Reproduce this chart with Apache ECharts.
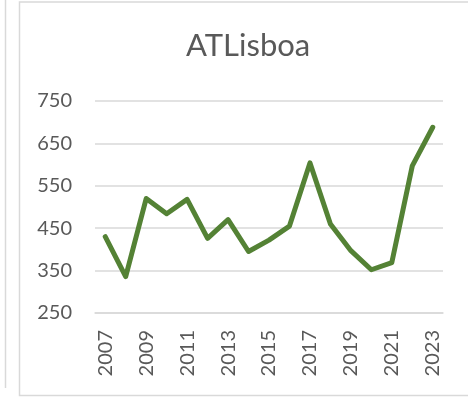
<!DOCTYPE html>
<html>
<head>
<meta charset="utf-8">
<script src="https://cdn.jsdelivr.net/npm/echarts@6/dist/echarts.min.js"></script>
<style>
    html, body { margin: 0; padding: 0; background: #fff; }
    #main { width: 468px; height: 401px; }
</style>
</head>
<body>
<div id="main"></div>
<script>
    // dados
    var years = ['2007', '2008', '2009', '2010', '2011', '2012', '2013', '2014', '2015',
        '2016', '2017', '2018', '2019', '2020', '2021', '2022', '2023'];
    var values = [430, 336, 520, 484, 518, 426, 470, 395, 422, 455, 604, 460, 397, 352, 369, 597, 688];
    var yTicks = [250, 350, 450, 550, 650, 750];

    var myChart = echarts.init(document.getElementById('main'));
    var font = 'Lato, "Noto Sans", sans-serif';
    var option = {
        animation: false,
        backgroundColor: '#fff',
        title: {
            text: 'ATLisboa',
            left: 181,
            top: 25,
            textStyle: { fontFamily: font, fontSize: 31, fontWeight: 'normal', color: '#595959' }
        },
        graphic: [
            {
                type: 'line', silent: true,
                shape: { x1: 5.5, y1: 0, x2: 5.5, y2: 388 },
                style: { stroke: '#d9d9d9', lineWidth: 1.5 }
            },
            {
                type: 'rect', silent: true,
                shape: { x: 19.5, y: 2, width: 460, height: 393.5 },
                style: { fill: 'none', stroke: '#d9d9d9', lineWidth: 1.5 }
            }
        ],
        grid: { left: 95, right: 25, top: 101, bottom: 88 },
        xAxis: {
            type: 'category',
            data: years,
            boundaryGap: true,
            axisTick: { show: false },
            axisLine: { show: true, lineStyle: { color: '#d9d9d9', width: 1.5 } },
            axisLabel: {
                interval: 1,
                rotate: 90,
                margin: 17,
                fontFamily: font,
                fontSize: 20,
                color: '#595959'
            }
        },
        yAxis: {
            type: 'value',
            min: yTicks[0],
            max: yTicks[yTicks.length - 1],
            interval: yTicks[1] - yTicks[0],
            axisLine: { show: false },
            axisTick: { show: false },
            splitLine: { lineStyle: { color: '#d9d9d9', width: 1.5 } },
            axisLabel: {
                margin: 23,
                fontFamily: font,
                fontSize: 20,
                color: '#595959'
            }
        },
        series: [{
            name: 'ATLisboa',
            type: 'line',
            data: values,
            symbol: 'none',
            lineStyle: { color: '#548235', width: 5, join: 'round', cap: 'round' }
        }]
    };
    myChart.setOption(option);
</script>
</body>
</html>
